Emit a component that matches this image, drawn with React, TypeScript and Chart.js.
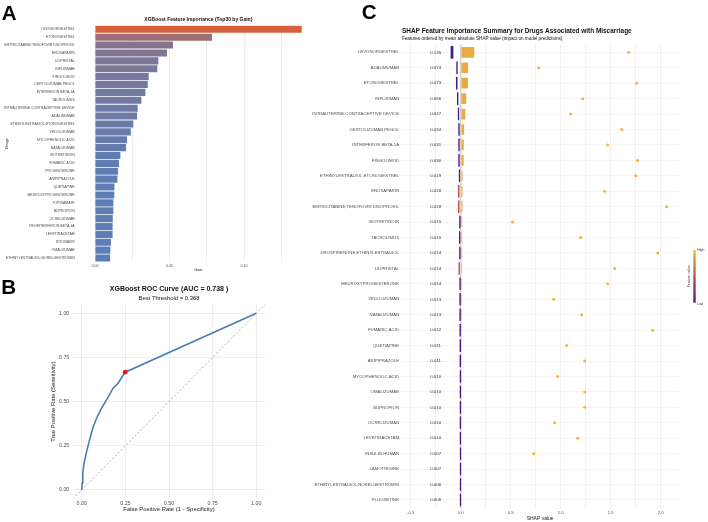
import React, { useEffect, useRef } from 'react';
import { Chart, registerables } from 'chart.js';

Chart.register(...registerables);

const FONT = '"Liberation Sans", Arial, Helvetica, sans-serif';
Chart.defaults.font.family = FONT;
Chart.defaults.color = '#4d4d4d';

// ---------- Panel A: XGBoost feature importance (gain), top 30 ----------
const gainDrugs = [
  'LEVONORGESTREL', 'ETONOGESTREL', 'EMTRICITABINE;TENOFOVIR DISOPROXIL', 'ENOXAPARIN',
  'ULIPRISTAL', 'INFLIXIMAB', 'FINGOLIMOD', 'CERTOLIZUMAB PEGOL', 'INTERFERON BETA-1A',
  'TACROLIMUS', 'INTRAUTERINE CONTRACEPTIVE DEVICE', 'ADALIMUMAB',
  'ETHINYLESTRADIOL;ETONOGESTREL', 'VEDOLIZUMAB', 'MYCOPHENOLIC ACID', 'NATALIZUMAB',
  'ISOTRETINOIN', 'FUMARIC ACID', 'PROGESTERONE', 'ARIPIPRAZOLE', 'QUETIAPINE',
  'MEDROXYPROGESTERONE', 'TOPIRAMATE', 'BUPROPION', 'OCRELIZUMAB', 'PEGINTERFERON BETA-1A',
  'LEVETIRACETAM', 'RITONAVIR', 'OMALIZUMAB', 'ETHINYLESTRADIOL;NORELGESTROMIN',
];
const gainValues = [
  0.1387, 0.0785, 0.0523, 0.0483, 0.0425, 0.0418, 0.036, 0.0354, 0.0338, 0.0311,
  0.0286, 0.0282, 0.0257, 0.024, 0.0215, 0.0208, 0.017, 0.0161, 0.0154, 0.015,
  0.013, 0.0129, 0.0123, 0.0123, 0.0119, 0.0118, 0.0118, 0.0107, 0.0103, 0.0101,
];
const gainTicks = [0, 0.025, 0.05, 0.075, 0.1, 0.125];

// ---------- Panel B: ROC curve ----------
const rocFpr = [0, 0.003, 0.006, 0.013, 0.028, 0.047, 0.066, 0.085, 0.113, 0.147, 0.179, 0.208, 0.23, 0.249, 1];
const rocTpr = [0, 0.04, 0.094, 0.15, 0.217, 0.292, 0.358, 0.406, 0.462, 0.519, 0.575, 0.604, 0.638, 0.667, 1];
const rocBestPoint = [0.249, 0.667];
const rocAuc = 0.738;
const rocThreshold = 0.368;
const rocRange = [-0.05, 1.05];
const rocTicks = [0, 0.25, 0.5, 0.75, 1];

// ---------- Panel C: SHAP summary ----------
const shapDrugs = [
  'LEVONORGESTREL', 'ADALIMUMAB', 'ETONOGESTREL', 'INFLIXIMAB', 'INTRAUTERINE CONTRACEPTIVE DEVICE',
  'CERTOLIZUMAB PEGOL', 'INTERFERON BETA-1A', 'FINGOLIMOD', 'ETHINYLESTRADIOL;ETONOGESTREL',
  'ENOXAPARIN', 'EMTRICITABINE;TENOFOVIR DISOPROXIL', 'ISOTRETINOIN', 'TACROLIMUS',
  'DROSPIRENONE;ETHINYLESTRADIOL', 'ULIPRISTAL', 'MEDROXYPROGESTERONE', 'VEDOLIZUMAB',
  'NATALIZUMAB', 'FUMARIC ACID', 'QUETIAPINE', 'ARIPIPRAZOLE', 'MYCOPHENOLIC ACID',
  'OMALIZUMAB', 'BUPROPION', 'OCRELIZUMAB', 'LEVETIRACETAM', 'INSULIN HUMAN', 'LAMOTRIGINE',
  'ETHINYLESTRADIOL;NORELGESTROMIN', 'FLUOXETINE',
];
// mean |SHAP| per drug
const shapMeanAbs = [
  0.135, 0.074, 0.073, 0.056, 0.047, 0.034, 0.031, 0.03, 0.019, 0.018,
  0.018, 0.015, 0.015, 0.014, 0.014, 0.014, 0.013, 0.013, 0.012, 0.011,
  0.011, 0.01, 0.01, 0.01, 0.01, 0.01, 0.007, 0.007, 0.006, 0.006,
];
// SHAP value of exposed cases (high feature value); null where none
const shapHigh = [
  1.68, 0.78, 1.76, 1.22, 1.1, 1.61, 1.47, 1.77, 1.75, null,
  null, 1.44, 2.06, 0.52, null, 1.2, 1.97, 1.54, 1.47, 0.93,
  1.21, 1.92, 1.06, 1.24, 0.97, 1.24, 1.24, 0.94, 1.17, 0.73,
];
// spread of SHAP values for the bulk of unexposed cases
const shapLowMin = [
  -0.107, -0.05, -0.054, -0.043, -0.035, -0.03, -0.03, -0.03, -0.025, -0.034,
  -0.034, -0.021, -0.023, -0.021, -0.028, -0.019, -0.019, -0.019, -0.018, -0.017,
  -0.017, -0.016, -0.016, -0.016, -0.016, -0.016, -0.015, -0.015, -0.015, -0.015,
];
const shapLowMax = [
  -0.067, -0.024, -0.026, -0.017, -0.009, -0.004, -0.004, -0.004, 0.001, -0.006,
  -0.006, 0.005, 0.003, 0.005, -0.002, 0.007, 0.007, 0.007, 0.008, 0.009,
  0.009, 0.01, 0.01, 0.01, 0.01, 0.01, 0.011, 0.011, 0.011, 0.011,
];
// average (scaled) feature value of that bulk
const shapLowFeature = [
  0, 0, 0, 0, 0, 0, 0, 0, 0, 0.5,
  0.5, 0, 0, 0, 0.5, 0, 0, 0, 0, 0,
  0, 0, 0, 0, 0, 0, 0, 0, 0, 0,
];
const shapTicks = [-0.5, -0.25, 0, 0.25, 0.5, 0.75, 1, 1.25, 1.5, 1.75, 2];
const shapLabelX = -0.25;

// ---------- colour helpers ----------
const GRID = '#e6e6e6';

function hexRgb(h: string): number[] {
  const n = parseInt(h.slice(1), 16);
  return [(n >> 16) & 255, (n >> 8) & 255, n & 255];
}
function mix(a: string, b: string, t: number): string {
  const A = hexRgb(a);
  const B = hexRgb(b);
  const c = A.map((v, i) => Math.round(v + (B[i] - v) * t));
  return `rgb(${c[0]},${c[1]},${c[2]})`;
}
const GAIN_LOW = '#5b7eb7';
const GAIN_HIGH = '#d9603a';
function gainColor(v: number): string {
  const lo = Math.min(...gainValues);
  const hi = Math.max(...gainValues);
  return mix(GAIN_LOW, GAIN_HIGH, (v - lo) / (hi - lo));
}
const FEAT_LOW = '#4b1c80';
const FEAT_MID = '#c4504c';
const FEAT_HIGH = '#f5b632';
function featureColor(t: number): string {
  return t <= 0.5 ? mix(FEAT_LOW, FEAT_MID, t * 2) : mix(FEAT_MID, FEAT_HIGH, (t - 0.5) * 2);
}

type TitleLine = { text: string; size: number; bold: boolean; y: number; align: 'center' | 'left' };
function titlesPlugin(lines: TitleLine[]) {
  return {
    id: 'panelTitles',
    afterDraw(chart: any) {
      const { ctx, chartArea } = chart;
      ctx.save();
      ctx.fillStyle = '#111';
      ctx.textBaseline = 'middle';
      for (const l of lines) {
        ctx.font = `${l.bold ? 'bold ' : ''}${l.size}px ${FONT}`;
        ctx.textAlign = l.align;
        const x = l.align === 'center' ? (chartArea.left + chartArea.right) / 2 : chartArea.left;
        ctx.fillText(l.text, x, l.y);
      }
      ctx.restore();
    },
  };
}

function gainConfig(): any {
  return {
    type: 'bar',
    data: {
      labels: gainDrugs,
      datasets: [
        {
          data: gainValues,
          backgroundColor: gainValues.map(gainColor),
          borderWidth: 0,
          barPercentage: 0.9,
          categoryPercentage: 1,
        },
      ],
    },
    options: {
      indexAxis: 'y',
      animation: false,
      responsive: false,
      layout: { padding: { top: 25.35, right: 4, left: 0, bottom: 0 } },
      plugins: { legend: { display: false }, tooltip: { enabled: false } },
      scales: {
        x: {
          type: 'linear',
          min: -0.00694,
          max: 0.1456,
          offset: false,
          afterBuildTicks: (s: any) => {
            s.ticks = gainTicks.map((value) => ({ value }));
          },
          afterFit: (s: any) => {
            s.height = 13;
          },
          grid: { color: GRID, lineWidth: 0.7, drawTicks: false },
          border: { display: false },
          ticks: {
            font: { size: 3.7 },
            color: '#4d4d4d',
            padding: 2,
            maxRotation: 0,
            autoSkip: false,
            callback: (v: any) => (Math.round(Number(v) * 40) % 2 === 0 ? Number(v).toFixed(2) : ''),
          },
          title: { display: true, text: 'Gain', font: { size: 4 }, color: '#1a1a1a', padding: { top: 0, bottom: 2.6 } },
        },
        y: {
          type: 'category',
          offset: true,
          afterFit: (s: any) => {
            s.width = 84.7;
          },
          grid: { display: false },
          border: { display: false },
          ticks: { font: { size: 3.5 }, color: '#4d4d4d', padding: 2, autoSkip: false },
          title: { display: true, text: 'Drugs', font: { size: 4 }, color: '#1a1a1a', padding: { top: 4.6, bottom: 0 } },
        },
      },
    },
    plugins: [
      titlesPlugin([{ text: 'XGBoost Feature Importance (Top30 by Gain)', size: 5, bold: true, y: 20, align: 'center' }]),
    ],
  };
}

function rocConfig(): any {
  return {
    type: 'scatter',
    data: {
      datasets: [
        {
          data: rocRange.map((v) => ({ x: v, y: v })),
          showLine: true,
          borderColor: '#8a8a8a',
          borderWidth: 0.7,
          borderDash: [2, 2],
          pointRadius: 0,
          order: 3,
        },
        {
          data: rocFpr.map((x, i) => ({ x, y: rocTpr[i] })),
          showLine: true,
          borderColor: '#4a7db8',
          borderWidth: 1.6,
          pointRadius: 0,
          tension: 0,
          order: 2,
        },
        {
          data: [{ x: rocBestPoint[0], y: rocBestPoint[1] }],
          backgroundColor: '#e41a1c',
          borderWidth: 0,
          pointRadius: 2.4,
          order: 1,
        },
      ],
    },
    options: {
      animation: false,
      responsive: false,
      layout: { padding: { top: 34.5, right: 35, left: 0, bottom: 0 } },
      plugins: { legend: { display: false }, tooltip: { enabled: false } },
      scales: {
        x: {
          type: 'linear',
          min: rocRange[0],
          max: rocRange[1],
          afterBuildTicks: (s: any) => {
            s.ticks = rocTicks.map((value) => ({ value }));
          },
          afterFit: (s: any) => {
            s.height = 23.2;
          },
          grid: { color: GRID, lineWidth: 0.7, drawTicks: false },
          border: { display: false },
          ticks: { font: { size: 5.3 }, color: '#4d4d4d', padding: 1.3, maxRotation: 0, callback: (v: any) => Number(v).toFixed(2) },
          title: {
            display: true,
            text: 'False Positive Rate (1 - Specificity)',
            font: { size: 5.9 },
            color: '#1a1a1a',
            padding: { top: 0, bottom: 9.2 },
          },
        },
        y: {
          type: 'linear',
          min: rocRange[0],
          max: rocRange[1],
          afterBuildTicks: (s: any) => {
            s.ticks = rocTicks.map((value) => ({ value }));
          },
          afterFit: (s: any) => {
            s.width = 73;
          },
          grid: { color: GRID, lineWidth: 0.7, drawTicks: false },
          border: { display: false },
          ticks: { font: { size: 5.3 }, color: '#4d4d4d', padding: 3.7, callback: (v: any) => Number(v).toFixed(2) },
          title: {
            display: true,
            text: 'True Positive Rate (Sensitivity)',
            font: { size: 5.9 },
            color: '#1a1a1a',
            padding: { top: 49.8, bottom: 0 },
          },
        },
      },
    },
    plugins: [
      titlesPlugin([
        { text: `XGBoost ROC Curve (AUC = ${rocAuc.toFixed(3)} )`, size: 7, bold: true, y: 19.3, align: 'center' },
        { text: `Best Threshold = ${rocThreshold.toFixed(3)}`, size: 5.9, bold: false, y: 28.3, align: 'center' },
      ]),
    ],
  };
}

const shapExtras = {
  id: 'shapExtras',
  afterDatasetsDraw(chart: any) {
    const { ctx, scales } = chart;
    const lx = scales.x.getPixelForValue(shapLabelX);
    ctx.save();
    ctx.font = `4.4px ${FONT}`;
    ctx.fillStyle = '#333';
    ctx.textAlign = 'center';
    ctx.textBaseline = 'middle';
    shapMeanAbs.forEach((v, i) => ctx.fillText(v.toFixed(3), lx, scales.y.getPixelForValue(i)));
    ctx.restore();
  },
  afterDraw(chart: any) {
    const { ctx, chartArea } = chart;
    // colour bar legend for feature value
    const x0 = chartArea.right + 15;
    const top = 250;
    const bottom = 302.7;
    ctx.save();
    const g = ctx.createLinearGradient(0, top, 0, bottom);
    g.addColorStop(0, FEAT_HIGH);
    g.addColorStop(0.5, FEAT_MID);
    g.addColorStop(1, FEAT_LOW);
    ctx.fillStyle = g;
    ctx.fillRect(x0, top, 2.4, bottom - top);
    ctx.fillStyle = '#333';
    ctx.font = `3.4px ${FONT}`;
    ctx.textAlign = 'left';
    ctx.textBaseline = 'middle';
    ctx.fillText('High', x0 + 4, top + 0.5);
    ctx.fillText('Low', x0 + 3.8, bottom + 1);
    ctx.translate(x0 - 4.3, (top + bottom) / 2);
    ctx.rotate(-Math.PI / 2);
    ctx.textAlign = 'center';
    ctx.font = `3.6px ${FONT}`;
    ctx.fillText('Feature value', 0, 0);
    ctx.restore();
  },
};

function shapConfig(): any {
  const highPoints: { x: number; y: number }[] = [];
  shapHigh.forEach((v, i) => {
    if (v !== null) highPoints.push({ x: v, y: i });
  });
  return {
    type: 'bar',
    data: {
      labels: shapDrugs,
      datasets: [
        {
          type: 'scatter',
          data: highPoints,
          backgroundColor: featureColor(1),
          borderWidth: 0,
          pointRadius: 1.5,
          order: 1,
        },
        {
          type: 'bar',
          indexAxis: 'y',
          grouped: false,
          data: shapLowMin.map((m, i) => [m, shapLowMax[i]]),
          backgroundColor: shapLowFeature.map(featureColor),
          borderColor: '#ffffff',
          borderWidth: 0.6,
          borderRadius: 1.5,
          borderSkipped: false,
          barPercentage: 0.92,
          categoryPercentage: 1,
          order: 2,
        },
        {
          type: 'bar',
          indexAxis: 'y',
          grouped: false,
          data: shapMeanAbs.map((v) => [0, v]),
          backgroundColor: 'rgba(233,164,52,0.92)',
          borderWidth: 0,
          barPercentage: 0.69,
          categoryPercentage: 1,
          order: 3,
        },
      ],
    },
    options: {
      indexAxis: 'y',
      animation: false,
      responsive: false,
      layout: { padding: { top: 44.6, right: 29.7, left: 0, bottom: 0 } },
      plugins: { legend: { display: false }, tooltip: { enabled: false } },
      scales: {
        x: {
          type: 'linear',
          min: -0.587,
          max: 2.176,
          offset: false,
          afterBuildTicks: (s: any) => {
            s.ticks = shapTicks.map((value) => ({ value }));
          },
          afterFit: (s: any) => {
            s.height = 14.3;
          },
          grid: {
            color: (c: any) => (c.tick && c.tick.value === 0 ? '#cfcfcf' : GRID),
            lineWidth: (c: any) => (c.tick && c.tick.value === 0 ? 1.4 : 0.6),
            drawTicks: false,
          },
          border: { display: false },
          ticks: {
            font: { size: 4.2 },
            color: '#4d4d4d',
            padding: 2.8,
            maxRotation: 0,
            autoSkip: false,
            callback: (v: any) => (Math.round(Number(v) * 4) % 2 === 0 ? Number(v).toFixed(1) : ''),
          },
          title: { display: true, text: 'SHAP value', font: { size: 5 }, color: '#1a1a1a', padding: { top: 0, bottom: 0.7 } },
        },
        y: {
          type: 'category',
          offset: true,
          afterFit: (s: any) => {
            s.width = 92;
          },
          grid: { color: '#ececec', lineWidth: 0.6, offset: false, drawTicks: false },
          border: { display: false },
          ticks: { font: { size: 4.3 }, color: '#4d4d4d', padding: 3, autoSkip: false },
        },
      },
    },
    plugins: [
      shapExtras,
      titlesPlugin([
        { text: 'SHAP Feature Importance Summary for Drugs Associated with Miscarriage', size: 6.45, bold: true, y: 31, align: 'left' },
        {
          text: 'Features ordered by mean absolute SHAP value (impact on model predictions)',
          size: 4.6,
          bold: false,
          y: 38.3,
          align: 'left',
        },
      ]),
    ],
  };
}

const letterStyle = (left: number, top: number): React.CSSProperties => ({
  position: 'absolute',
  left,
  top,
  fontFamily: FONT,
  fontWeight: 'bold',
  fontSize: 20.5,
  lineHeight: '20.5px',
  color: '#000',
});

export default function App() {
  const aRef = useRef<HTMLCanvasElement>(null);
  const bRef = useRef<HTMLCanvasElement>(null);
  const cRef = useRef<HTMLCanvasElement>(null);

  useEffect(() => {
    const charts = [
      new Chart(aRef.current as HTMLCanvasElement, gainConfig()),
      new Chart(bRef.current as HTMLCanvasElement, rocConfig()),
      new Chart(cRef.current as HTMLCanvasElement, shapConfig()),
    ];
    return () => charts.forEach((c) => c.destroy());
  }, []);

  return (
    <div style={{ position: 'fixed', left: 0, top: 0, width: 708, height: 522, background: '#fff', overflow: 'hidden' }}>
      <canvas ref={aRef} width={316} height={275} style={{ position: 'absolute', left: 0, top: 0, width: 316, height: 275 }} />
      <canvas ref={bRef} width={300} height={252} style={{ position: 'absolute', left: 0, top: 270, width: 300, height: 252 }} />
      <canvas ref={cRef} width={398} height={522} style={{ position: 'absolute', left: 310, top: 0, width: 398, height: 522 }} />
      <div style={letterStyle(1.7, 3.4)}>A</div>
      <div style={letterStyle(1.2, 277.4)}>B</div>
      <div style={letterStyle(361.7, 2.4)}>C</div>
    </div>
  );
}
